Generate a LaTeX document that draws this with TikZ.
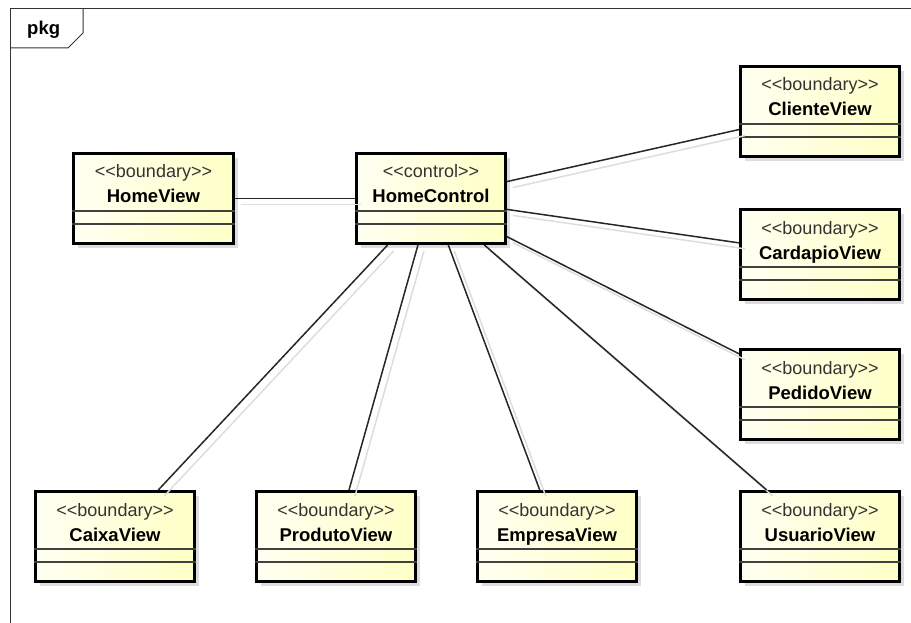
\documentclass[tikz,border=0pt]{standalone}
\usepackage{fontspec}
\setmainfont{Liberation Sans}
\definecolor{boxleft}{HTML}{FFFFF2}
\definecolor{boxright}{HTML}{FFFFC6}
\definecolor{shadowgray}{HTML}{DDDDDD}
\definecolor{sepgray}{HTML}{404040}
\definecolor{framegray}{HTML}{333333}
\tikzset{
  umlclass/.style={draw=black, line width=3pt, minimum height=90pt, inner sep=0pt,
    left color=boxleft, right color=boxright, anchor=north west},
  sepline/.style={draw=sepgray, line width=1.5pt},
  stereo/.style={text=black!80, font=\fontsize{18}{22}\selectfont, inner sep=0pt, anchor=base},
  classname/.style={font=\fontsize{18.5}{22}\selectfont\bfseries, inner sep=0pt, anchor=base},
  assoc/.style={draw=black!85, line width=1.5pt},
  assocshadow/.style={draw=shadowgray, line width=1.5pt,
    transform canvas={xshift=6pt, yshift=-6pt}},
}
% name, x, y, width, stereotype, title
\newcommand{\umlview}[6]{
  \fill[shadowgray] (#2+6,#3+6) rectangle ++(#4,90);
  \node[umlclass, minimum width=#4pt] (#1) at (#2,#3) {};
  \draw[sepline] ([yshift=-59pt]#1.north west) -- ([yshift=-59pt]#1.north east);
  \draw[sepline] ([yshift=-72pt]#1.north west) -- ([yshift=-72pt]#1.north east);
  \node[stereo] at ([yshift=-26pt]#1.north) {<{}<#5>{}>};
  \node[classname] at ([yshift=-51pt]#1.north) {#6};
}

\begin{document}
\begin{tikzpicture}[x=1pt,y=-1pt]
      \useasboundingbox (0,0) rectangle (911,623);
      % package frame
      \draw [framegray, line width=1pt] (911,9) -- (10,9) -- (10,623);
      \draw [framegray, line width=1pt] (10,48) -- (68,48) -- (83,33) -- (83,9);
      \node[font=\fontsize{18.5}{22}\selectfont\bfseries, inner sep=0pt, anchor=base west] (pkg) at (27,35) {pkg};

      \umlview{homeview}{72}{152}{160}{boundary}{HomeView}
      \umlview{homecontrol}{355}{152}{149}{control}{HomeControl}
      \umlview{clienteview}{739}{65}{159}{boundary}{ClienteView}
      \umlview{cardapioview}{739}{208}{159}{boundary}{CardapioView}
      \umlview{pedidoview}{739}{348}{159}{boundary}{PedidoView}
      \umlview{caixaview}{34}{490}{159}{boundary}{CaixaView}
      \umlview{produtoview}{255}{490}{159}{boundary}{ProdutoView}
      \umlview{empresaview}{476}{490}{159}{boundary}{EmpresaView}
      \umlview{usuarioview}{739}{490}{159}{boundary}{UsuarioView}

      \foreach \v in {homeview,clienteview,cardapioview,pedidoview,caixaview,produtoview,empresaview,usuarioview} {
        \draw [assocshadow] (homecontrol) -- (\v);
        \draw [assoc] (homecontrol) -- (\v);
      }
    \end{tikzpicture}
\end{document}
